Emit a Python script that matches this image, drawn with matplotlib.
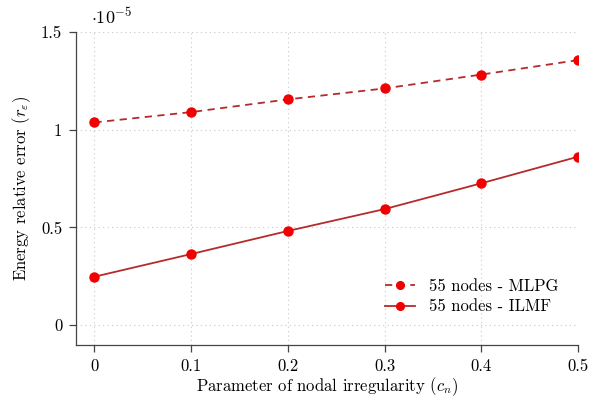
import numpy as np
import matplotlib
matplotlib.use("Agg")
import matplotlib.pyplot as plt
from matplotlib.ticker import FuncFormatter

plt.rcParams['font.family'] = ['cmr10', 'DejaVu Serif']
plt.rcParams['mathtext.fontset'] = 'cm'
plt.rcParams['axes.formatter.use_mathtext'] = True

# parametro de irregularidade e erro relativo (x 1e-5)
cn = [0, 0.1, 0.2, 0.3, 0.4, 0.5]
err_mlpg = [1.037, 1.09, 1.155, 1.211, 1.282, 1.356]
err_ilmf = [0.248, 0.364, 0.482, 0.594, 0.726, 0.862]
labels = ['55 nodes - MLPG', '55 nodes - ILMF']

line_col = '#b52b2b'
mark_col = '#f00000'

fig = plt.figure(figsize=(5.9, 3.99), dpi=100)
ax = fig.add_axes([0.129, 0.135, 0.851, 0.785])

ax.plot(cn, err_mlpg, '--', color=line_col, lw=1.3, dashes=(4, 3),
        marker='o', ms=6.5, mfc=mark_col, mec=mark_col, label=labels[0])
ax.plot(cn, err_ilmf, '-', color=line_col, lw=1.3,
        marker='o', ms=6.5, mfc=mark_col, mec=mark_col, label=labels[1])

ax.set_xlim(-0.019, 0.5)
ax.set_ylim(-0.102, 1.5)
ax.set_xticks([0, 0.1, 0.2, 0.3, 0.4, 0.5])
ax.set_yticks([0, 0.5, 1, 1.5])
fmt = FuncFormatter(lambda v, p: '%g' % v)
ax.xaxis.set_major_formatter(fmt)
ax.yaxis.set_major_formatter(fmt)
ax.grid(True, linestyle=(0, (1, 3)), color='#c8c8c8', lw=0.8)

for s in ['top', 'right']:
    ax.spines[s].set_visible(False)
for s in ['left', 'bottom']:
    ax.spines[s].set_color('#444444')
    ax.spines[s].set_linewidth(0.9)
ax.tick_params(direction='out', length=5, width=0.9, color='#444444',
               labelsize=12, pad=5)

ax.set_xlabel(r'Parameter of nodal irregularity ($c_n$)', fontsize=12, labelpad=1)
ax.set_ylabel(r'Energy relative error ($r_\varepsilon$)', fontsize=12, labelpad=6)
ax.text(0.03, 1.025, r'$\cdot 10^{-5}$', transform=ax.transAxes, fontsize=13)

ax.legend(loc='lower right', frameon=False, fontsize=12, handlelength=1.8,
          markerscale=0.85, bbox_to_anchor=(0.99, 0.05), labelspacing=0.3)

fig.savefig('out.png', dpi=100)
